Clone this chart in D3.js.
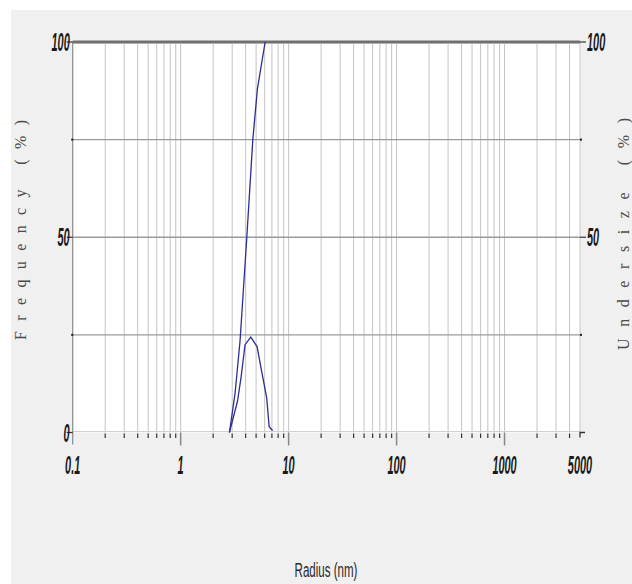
<!DOCTYPE html>
<html><head><meta charset="utf-8">
<script src="https://cdn.jsdelivr.net/npm/d3@7"></script>
<style>
html,body{margin:0;padding:0;background:#fff;}
svg{display:block;}
</style></head>
<body>
<svg id="c" width="632" height="584"></svg>
<script>
// ---- data ----
const freqRadius = [2.83, 3.36, 3.62, 3.95, 4.46, 5.1, 5.6, 6.27, 6.6, 7.1];
const freqValues = [0, 8, 14, 22.5, 24.4, 22, 16, 8.8, 1.5, 0.5];
const cumRadius = [2.83, 3.19, 3.55, 4.1, 4.66, 5.14, 6.06];
const cumValues = [0, 10, 23.5, 50, 75, 88, 100];
const xTickValues = [0.1, 1, 10, 100, 1000, 5000];
const xTickLabels = ["0.1", "1", "10", "100", "1000", "5000"];
const yTickValues = [0, 50, 100];
const yMinorValues = [25, 75];
const xTitle = "Radius (nm)";
const yTitleLeft = "Frequency (%)";
const yTitleRight = "Undersize (%)";

const svg = d3.select("#c");
const L = 72.7, R = 580, T = 42, B = 432.5;
const x = d3.scaleLog().domain([0.1, 5000]).range([L, R]);
const y = d3.scaleLinear().domain([0, 100]).range([B, T]);

// background panel
svg.append("rect").attr("x", 11).attr("y", 10).attr("width", 621).attr("height", 574).attr("fill", "#f0f0f0");
svg.append("rect").attr("x", L).attr("y", T).attr("width", R - L).attr("height", B - T).attr("fill", "#ffffff");

// grid values
const minor = [];
for (let d = 0.1; d < 5000; d *= 10) {
  for (let k = 2; k <= 9; k++) { const v = d * k; if (v < 5000) minor.push(+v.toPrecision(3)); }
}
const majors = [1, 10, 100, 1000];

// vertical grid
svg.append("g").selectAll("line").data(minor.concat(majors)).join("line")
  .attr("x1", d => x(d)).attr("x2", d => x(d)).attr("y1", T).attr("y2", B)
  .attr("stroke", "#c4c4c4").attr("stroke-width", 1);
// right border
svg.append("line").attr("x1", R).attr("x2", R).attr("y1", T).attr("y2", B).attr("stroke", "#c8c8c8");

// horizontal grid
svg.append("g").selectAll("line").data([25, 50, 75]).join("line")
  .attr("x1", L).attr("x2", R).attr("y1", d => y(d)).attr("y2", d => y(d))
  .attr("stroke", "#9a9a9a").attr("stroke-width", 1.4);
// zero line
svg.append("line").attr("x1", L).attr("x2", R).attr("y1", y(0) - 1).attr("y2", y(0) - 1).attr("stroke", "#d0d0d0").attr("stroke-width", 1);
// top thick line
svg.append("line").attr("x1", L).attr("x2", R).attr("y1", y(100)).attr("y2", y(100))
  .attr("stroke", "#b0b0b0").attr("stroke-width", 4);
svg.append("line").attr("x1", L).attr("x2", R).attr("y1", y(100)).attr("y2", y(100))
  .attr("stroke", "#707070").attr("stroke-width", 2);

// left axis
svg.append("line").attr("x1", L).attr("x2", L).attr("y1", T).attr("y2", B + 12).attr("stroke", "#8a8a8a").attr("stroke-width", 1.2);

// bottom ticks
svg.append("g").selectAll("line").data(minor).join("line")
  .attr("x1", d => x(d)).attr("x2", d => x(d)).attr("y1", B + 1).attr("y2", B + 5.5)
  .attr("stroke", "#333").attr("stroke-width", 1.2);
svg.append("g").selectAll("line").data(majors).join("line")
  .attr("x1", d => x(d)).attr("x2", d => x(d)).attr("y1", B).attr("y2", B + 13)
  .attr("stroke", "#888").attr("stroke-width", 1.5);
// end tick at 5000
svg.append("path").attr("d", `M${x(5000)},${B + 5}V${B}H${x(5000) + 5}`).attr("fill", "none").attr("stroke", "#333").attr("stroke-width", 1.3);

// y ticks left/right
svg.append("g").selectAll("line").data(yTickValues).join("line")
  .attr("x1", L - 6).attr("x2", L).attr("y1", d => y(d)).attr("y2", d => y(d)).attr("stroke", "#333").attr("stroke-width", 1.2);
svg.append("g").selectAll("line").data([50, 100]).join("line")
  .attr("x1", R).attr("x2", R + 6).attr("y1", d => y(d)).attr("y2", d => y(d)).attr("stroke", "#333").attr("stroke-width", 1.2);
svg.append("g").selectAll("rect").data(yMinorValues).join("rect")
  .attr("x", L - 1.5).attr("y", d => y(d) - 1).attr("width", 2).attr("height", 2).attr("fill", "#222");
svg.append("g").selectAll("rect").data(yMinorValues).join("rect")
  .attr("x", R).attr("y", d => y(d) - 1).attr("width", 2).attr("height", 2).attr("fill", "#222");

// tick labels (condensed italic)
const FS = 26, SX = 0.42;
function lab(g, tx, ty, txt, anchor) {
  g.append("text").attr("transform", `translate(${tx},${ty}) scale(${SX},1)`)
    .attr("text-anchor", anchor).attr("font-family", "Liberation Sans, Arial, sans-serif")
    .attr("font-style", "italic").attr("font-weight", "bold").attr("font-size", FS).attr("fill", "#1a1a1a").text(txt);
}
const gl = svg.append("g");
yTickValues.forEach(v => lab(gl, L - 3, y(v) + 9, String(v), "end"));
[50, 100].forEach(v => lab(gl, R + 7, y(v) + 9, String(v), "start"));
xTickValues.forEach((v, i) => lab(gl, x(v), 474, xTickLabels[i], "middle"));

// axis titles
svg.append("text").attr("transform", `translate(326,577) scale(0.55,1)`)
  .attr("text-anchor", "middle").attr("font-family", "Liberation Sans, Arial, sans-serif")
  .attr("font-size", 21).attr("fill", "#2a2a2a").text(xTitle);
svg.append("text").attr("transform", "translate(26,230) rotate(-90)")
  .attr("text-anchor", "middle").attr("font-family", "Liberation Serif, serif")
  .attr("font-size", 16).attr("fill", "#4a4a4a").attr("textLength", 220).attr("lengthAdjust", "spacing")
  .text(yTitleLeft);
svg.append("text").attr("transform", "translate(629,234) rotate(-90)")
  .attr("text-anchor", "middle").attr("font-family", "Liberation Serif, serif")
  .attr("font-size", 16).attr("fill", "#4a4a4a").attr("textLength", 232).attr("lengthAdjust", "spacing")
  .text(yTitleRight);

// curves
const line = d3.line().x(d => x(d[0])).y(d => y(d[1]));
svg.append("path").datum(d3.zip(freqRadius, freqValues)).attr("d", line)
  .attr("fill", "none").attr("stroke", "#2e2e94").attr("stroke-width", 1.3);
svg.append("path").datum(d3.zip(cumRadius, cumValues)).attr("d", line)
  .attr("fill", "none").attr("stroke", "#2e2e94").attr("stroke-width", 1.3);
</script>
</body></html>
